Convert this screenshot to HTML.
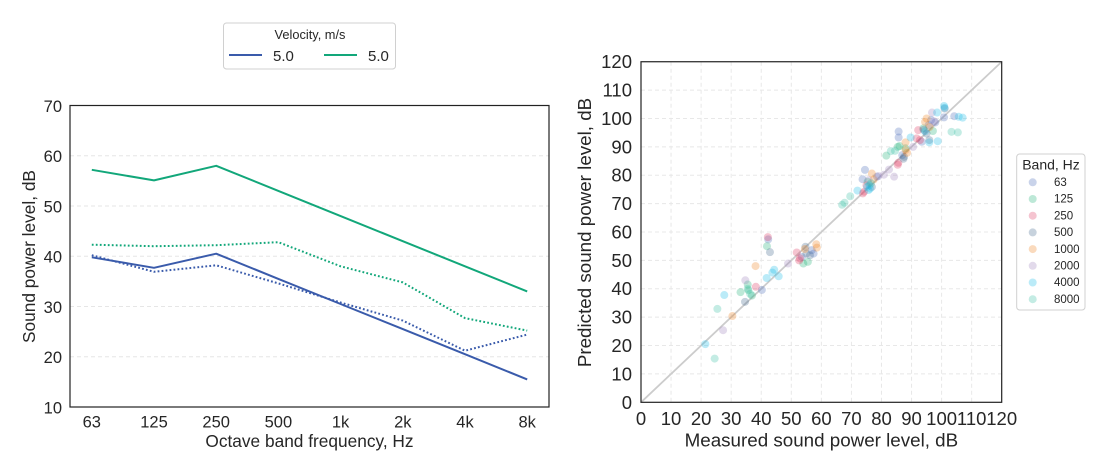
<!DOCTYPE html>
<html>
<head>
<meta charset="utf-8">
<style>
html,body{margin:0;padding:0;background:#fff;}
svg{display:block;font-family:"Liberation Sans",Arial,sans-serif;}
.s path{vector-effect:non-scaling-stroke;}
</style>
</head>
<body>
<svg width="1107" height="462" viewBox="0 0 1107 462" xmlns="http://www.w3.org/2000/svg">
<rect width="1107" height="462" fill="#fff"/>

<!-- ================= LEFT CHART ================= -->
<g stroke="#e6e6e6" stroke-width="1" stroke-dasharray="4 3">
  <line x1="70" y1="356.75" x2="549" y2="356.75"/>
  <line x1="70" y1="306.5" x2="549" y2="306.5"/>
  <line x1="70" y1="256.25" x2="549" y2="256.25"/>
  <line x1="70" y1="206" x2="549" y2="206"/>
  <line x1="70" y1="155.75" x2="549" y2="155.75"/>
</g>

<g fill="none" stroke-width="2" stroke-linejoin="round">
  <polyline stroke="#12a77a" points="91.8,169.8 154,180.4 216.2,165.8 278.4,190.9 340.6,216.05 402.8,241.2 465,266.3 527.2,291.4"/>
  <polyline stroke="#3a5bab" points="91.8,257.3 154,267.8 216.2,253.7 278.4,278.9 340.6,304 402.8,329.1 465,354.2 527.2,379.4"/>
  <polyline stroke="#12a77a" stroke-dasharray="1.8 2.2" points="91.8,244.7 154,246.2 216.2,245.2 278.4,242.2 340.6,266.3 402.8,282.4 465,318.1 527.2,330.6"/>
  <polyline stroke="#3a5bab" stroke-dasharray="1.8 2.2" points="91.8,255.2 154,271.8 216.2,265.3 278.4,283.4 340.6,302.5 402.8,320.6 465,350.7 527.2,334.6"/>
</g>

<rect x="70" y="105.5" width="479" height="301.5" fill="none" stroke="#222" stroke-width="1.2"/>

<g fill="#262626" font-size="16.5" text-anchor="end">
  <text x="62" y="413.5">10</text>
  <text x="62" y="363.2">20</text>
  <text x="62" y="313">30</text>
  <text x="62" y="262.7">40</text>
  <text x="62" y="212.5">50</text>
  <text x="62" y="162.2">60</text>
  <text x="62" y="112">70</text>
</g>
<g fill="#262626" font-size="16.5" text-anchor="middle">
  <text x="91.8" y="427.5">63</text>
  <text x="154" y="427.5">125</text>
  <text x="216.2" y="427.5">250</text>
  <text x="278.4" y="427.5">500</text>
  <text x="340.6" y="427.5">1k</text>
  <text x="402.8" y="427.5">2k</text>
  <text x="465" y="427.5">4k</text>
  <text x="527.2" y="427.5">8k</text>
</g>
<text x="309.5" y="447" fill="#262626" font-size="17.3" text-anchor="middle">Octave band frequency, Hz</text>
<text transform="translate(35,256.5) rotate(-90)" fill="#262626" font-size="17.3" text-anchor="middle">Sound power level, dB</text>

<!-- left legend -->
<rect x="223.5" y="23" width="172" height="46" rx="3" fill="#fff" stroke="#d0d0d0" stroke-width="1"/>
<text x="310" y="39" fill="#262626" font-size="12.8" text-anchor="middle">Velocity, m/s</text>
<line x1="229" y1="55" x2="262" y2="55" stroke="#3a5bab" stroke-width="2"/>
<text x="273" y="61" fill="#262626" font-size="15">5.0</text>
<line x1="324" y1="55" x2="357" y2="55" stroke="#12a77a" stroke-width="2"/>
<text x="368" y="61" fill="#262626" font-size="15">5.0</text>

<!-- ================= RIGHT CHART ================= -->
<g stroke="#e8e8e8" stroke-width="1" stroke-dasharray="4 3">
  <line x1="671.06" y1="61.74" x2="671.06" y2="402.3"/>
  <line x1="701.12" y1="61.74" x2="701.12" y2="402.3"/>
  <line x1="731.18" y1="61.74" x2="731.18" y2="402.3"/>
  <line x1="761.24" y1="61.74" x2="761.24" y2="402.3"/>
  <line x1="791.3" y1="61.74" x2="791.3" y2="402.3"/>
  <line x1="821.36" y1="61.74" x2="821.36" y2="402.3"/>
  <line x1="851.42" y1="61.74" x2="851.42" y2="402.3"/>
  <line x1="881.48" y1="61.74" x2="881.48" y2="402.3"/>
  <line x1="911.54" y1="61.74" x2="911.54" y2="402.3"/>
  <line x1="941.6" y1="61.74" x2="941.6" y2="402.3"/>
  <line x1="971.66" y1="61.74" x2="971.66" y2="402.3"/>
  <line x1="641" y1="373.92" x2="1001.7" y2="373.92"/>
  <line x1="641" y1="345.54" x2="1001.7" y2="345.54"/>
  <line x1="641" y1="317.16" x2="1001.7" y2="317.16"/>
  <line x1="641" y1="288.78" x2="1001.7" y2="288.78"/>
  <line x1="641" y1="260.4" x2="1001.7" y2="260.4"/>
  <line x1="641" y1="232.02" x2="1001.7" y2="232.02"/>
  <line x1="641" y1="203.64" x2="1001.7" y2="203.64"/>
  <line x1="641" y1="175.26" x2="1001.7" y2="175.26"/>
  <line x1="641" y1="146.88" x2="1001.7" y2="146.88"/>
  <line x1="641" y1="118.5" x2="1001.7" y2="118.5"/>
  <line x1="641" y1="90.12" x2="1001.7" y2="90.12"/>
</g>

<line x1="641" y1="402.3" x2="1001.7" y2="61.74" stroke="#cccccc" stroke-width="1.8"/>

<g class="s" transform="translate(641 402.3) scale(3.006 -2.838)" fill="none" stroke-linecap="round" stroke-width="8" stroke-opacity="0.3">
  <g stroke="#4b6cb9">
    <path d="M73.7 78.6h0.01"/><path d="M74.5 81.9h0.01"/><path d="M78.5 79.5h0.01"/><path d="M85.7 95.4h0.01"/><path d="M85.7 93.3h0.01"/><path d="M86.9 87.1h0.01"/><path d="M93.4 91.8h0.01"/><path d="M95.7 97.7h0.01"/><path d="M97.9 98.6h0.01"/><path d="M100.8 100.4h0.01"/><path d="M104.2 100.8h0.01"/><path d="M53.5 51.2h0.01"/><path d="M56.8 53.6h0.01"/><path d="M57.4 52.4h0.01"/><path d="M40.2 39.6h0.01"/><path d="M42.3 57.4h0.01"/><path d="M96.5 99.5h0.01"/>
  </g>
  <g stroke="#26b27a">
    <path d="M33.1 38.8h0.01"/><path d="M35.5 41.5h0.01"/><path d="M36.9 37.6h0.01"/><path d="M41.9 55h0.01"/><path d="M54 48.9h0.01"/><path d="M55.5 49.5h0.01"/><path d="M75.4 77.7h0.01"/><path d="M81.6 86.9h0.01"/><path d="M85.4 90h0.01"/><path d="M86 90.3h0.01"/><path d="M93.9 96.5h0.01"/><path d="M97.1 95.6h0.01"/><path d="M35.7 39.5h0.01"/><path d="M88 89.5h0.01"/>
  </g>
  <g stroke="#de3a62">
    <path d="M38.2 40.7h0.01"/><path d="M42.2 58.2h0.01"/><path d="M51.8 52.8h0.01"/><path d="M52.6 50h0.01"/><path d="M52.9 50.7h0.01"/><path d="M73.8 73.6h0.01"/><path d="M74.2 74.2h0.01"/><path d="M85.4 83.7h0.01"/><path d="M85.6 84.4h0.01"/><path d="M91.7 93h0.01"/><path d="M92.2 95.9h0.01"/><path d="M92.8 92.4h0.01"/><path d="M75 76.5h0.01"/>
  </g>
  <g stroke="#46698f">
    <path d="M34.6 35.4h0.01"/><path d="M42.9 52.9h0.01"/><path d="M54.7 54.8h0.01"/><path d="M56.2 51.8h0.01"/><path d="M55 52.4h0.01"/><path d="M76.8 75.9h0.01"/><path d="M87.3 85.8h0.01"/><path d="M95 94.7h0.01"/><path d="M95.9 92.4h0.01"/><path d="M101 103.5h0.01"/><path d="M87.5 86.5h0.01"/><path d="M94 96h0.01"/>
  </g>
  <g stroke="#ee8426">
    <path d="M30.4 30.4h0.01"/><path d="M38.1 48h0.01"/><path d="M58.3 55.7h0.01"/><path d="M58.5 54.5h0.01"/><path d="M54.5 54h0.01"/><path d="M76.8 80.6h0.01"/><path d="M77.4 78.5h0.01"/><path d="M88 88.9h0.01"/><path d="M88.5 87.9h0.01"/><path d="M88 91.6h0.01"/><path d="M94.5 98.8h0.01"/><path d="M95 100h0.01"/><path d="M96 97h0.01"/>
  </g>
  <g stroke="#9e84bc">
    <path d="M27.3 25.4h0.01"/><path d="M34.7 43h0.01"/><path d="M48.9 48.9h0.01"/><path d="M75.7 78.3h0.01"/><path d="M79 79.7h0.01"/><path d="M80.8 80.2h0.01"/><path d="M84.2 79.5h0.01"/><path d="M90.5 90h0.01"/><path d="M96.8 102.1h0.01"/><path d="M82.5 82h0.01"/><path d="M97.5 99h0.01"/>
  </g>
  <g stroke="#1fbce8">
    <path d="M21.4 20.5h0.01"/><path d="M27.7 37.8h0.01"/><path d="M41.8 43.8h0.01"/><path d="M43.7 45.7h0.01"/><path d="M44.3 46.7h0.01"/><path d="M45.8 44.4h0.01"/><path d="M72 74.6h0.01"/><path d="M75.2 75.9h0.01"/><path d="M75.7 74.8h0.01"/><path d="M76.2 75.3h0.01"/><path d="M89.7 93.3h0.01"/><path d="M95.9 91.6h0.01"/><path d="M98.5 102.1h0.01"/><path d="M98.7 92h0.01"/><path d="M100.8 104.4h0.01"/><path d="M101 103.8h0.01"/><path d="M105.7 100.6h0.01"/><path d="M107 100.3h0.01"/><path d="M76 76.5h0.01"/><path d="M94.5 95.5h0.01"/>
  </g>
  <g stroke="#3ac0a5">
    <path d="M24.5 15.4h0.01"/><path d="M25.4 32.9h0.01"/><path d="M35.5 40h0.01"/><path d="M36.3 38.2h0.01"/><path d="M66.9 69.6h0.01"/><path d="M67.7 70.3h0.01"/><path d="M69.6 72.6h0.01"/><path d="M83.1 88.5h0.01"/><path d="M84.5 88.6h0.01"/><path d="M103.3 95.3h0.01"/><path d="M105.4 95.1h0.01"/><path d="M76.5 77.2h0.01"/>
  </g>
</g>

<rect x="641" y="61.74" width="360.7" height="340.56" fill="none" stroke="#222" stroke-width="1.2"/>

<g fill="#262626" font-size="18.5" text-anchor="end">
  <text x="632" y="408.8">0</text>
  <text x="632" y="380.4">10</text>
  <text x="632" y="352">20</text>
  <text x="632" y="323.6">30</text>
  <text x="632" y="295.2">40</text>
  <text x="632" y="266.8">50</text>
  <text x="632" y="238.5">60</text>
  <text x="632" y="210.1">70</text>
  <text x="632" y="181.7">80</text>
  <text x="632" y="153.3">90</text>
  <text x="632" y="125">100</text>
  <text x="632" y="96.6">110</text>
  <text x="632" y="68.2">120</text>
</g>
<g fill="#262626" font-size="18.5" text-anchor="middle">
  <text x="641" y="425">0</text>
  <text x="671.06" y="425">10</text>
  <text x="701.12" y="425">20</text>
  <text x="731.18" y="425">30</text>
  <text x="761.24" y="425">40</text>
  <text x="791.3" y="425">50</text>
  <text x="821.36" y="425">60</text>
  <text x="851.42" y="425">70</text>
  <text x="881.48" y="425">80</text>
  <text x="911.54" y="425">90</text>
  <text x="941.6" y="425">100</text>
  <text x="971.66" y="425">110</text>
  <text x="1001.7" y="425">120</text>
</g>
<text x="821.4" y="446.5" fill="#262626" font-size="18.8" text-anchor="middle">Measured sound power level, dB</text>
<text transform="translate(591,232.5) rotate(-90)" fill="#262626" font-size="18.8" text-anchor="middle">Predicted sound power level, dB</text>

<!-- right legend -->
<rect x="1016.7" y="154" width="68.3" height="156" rx="3" fill="#fff" stroke="#d0d0d0" stroke-width="1"/>
<text x="1051" y="169.3" fill="#262626" font-size="14" text-anchor="middle">Band, Hz</text>
<g fill-opacity="0.3">
  <circle cx="1032.7" cy="182.3" r="4" fill="#4b6cb9"/>
  <circle cx="1032.7" cy="199" r="4" fill="#26b27a"/>
  <circle cx="1032.7" cy="215.7" r="4" fill="#de3a62"/>
  <circle cx="1032.7" cy="232.4" r="4" fill="#46698f"/>
  <circle cx="1032.7" cy="249.1" r="4" fill="#ee8426"/>
  <circle cx="1032.7" cy="265.8" r="4" fill="#9e84bc"/>
  <circle cx="1032.7" cy="282.5" r="4" fill="#1fbce8"/>
  <circle cx="1032.7" cy="299.2" r="4" fill="#3ac0a5"/>
</g>
<g fill="#262626" font-size="11.5">
  <text x="1054" y="186">63</text>
  <text x="1054" y="202.7">125</text>
  <text x="1054" y="219.4">250</text>
  <text x="1054" y="236.1">500</text>
  <text x="1054" y="252.8">1000</text>
  <text x="1054" y="269.5">2000</text>
  <text x="1054" y="286.2">4000</text>
  <text x="1054" y="302.9">8000</text>
</g>
</svg>
</body>
</html>
